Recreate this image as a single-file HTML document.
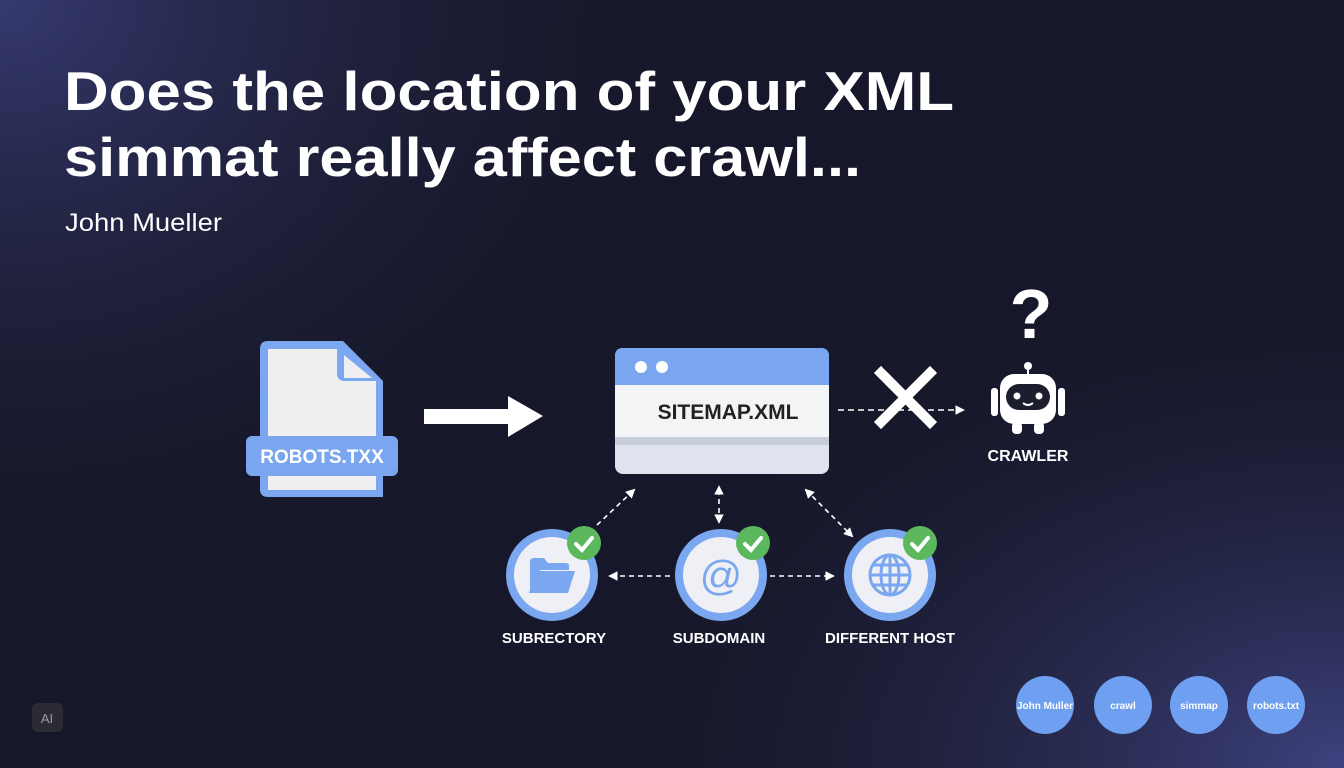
<!DOCTYPE html>
<html><head><meta charset="utf-8"><style>
html,body{margin:0;padding:0;}
body{width:1344px;height:768px;overflow:hidden;background:#14151f;font-family:"Liberation Sans",sans-serif;}
svg{display:block;}
</style></head><body>
<svg width="1344" height="768" viewBox="0 0 1344 768" xmlns="http://www.w3.org/2000/svg">
<defs>
<radialGradient id="g1" cx="0" cy="0" r="1" gradientUnits="userSpaceOnUse" gradientTransform="translate(0 0) scale(800 650)">
<stop offset="0" stop-color="#363a70"/><stop offset="1" stop-color="#14151f" stop-opacity="0"/></radialGradient>
<radialGradient id="g2" cx="0" cy="0" r="1" gradientUnits="userSpaceOnUse" gradientTransform="translate(1344 768) scale(850 550)">
<stop offset="0" stop-color="#3e4280"/><stop offset="1" stop-color="#14151f" stop-opacity="0"/></radialGradient>
<marker id="ah" viewBox="0 0 10 10" refX="8" refY="5" markerWidth="6" markerHeight="6" orient="auto-start-reverse"><path d="M0,0L10,5L0,10z" fill="#fff"/></marker>
</defs>
<rect width="1344" height="768" fill="#16172a"/>
<rect width="1344" height="768" fill="url(#g1)"/>
<rect width="1344" height="768" fill="url(#g2)"/>
<text x="64" y="110" fill="#fff" font-size="55" font-weight="bold" textLength="890" lengthAdjust="spacingAndGlyphs">Does the location of your XML</text>
<text x="64" y="176" fill="#fff" font-size="55" font-weight="bold" textLength="797" lengthAdjust="spacingAndGlyphs">simmat really affect crawl...</text>
<text x="65" y="231" fill="#fff" font-size="25" textLength="157" lengthAdjust="spacingAndGlyphs">John Mueller</text>
<path d="M268,341 H343 L383,381 V497 H268 Q260,497 260,489 V349 Q260,341 268,341z" fill="#7aa7ef"/>
<path d="M268,349 H337 V373 Q337,381 345,381 H376 V490 H268z" fill="#efeff2"/>
<path d="M344,355 L372,378 H344z" fill="#efeff2"/>
<rect x="246" y="436" width="152" height="40" rx="6" fill="#79a6ee"/>
<text x="322" y="463" fill="#fff" font-size="19" font-weight="bold" text-anchor="middle">ROBOTS.TXX</text>
<rect x="424" y="409" width="86" height="15" fill="#fff"/>
<path d="M508,396 L543,416 L508,437z" fill="#fff"/>
<rect x="615" y="348" width="214" height="126" rx="8" fill="#dee3ee"/>
<path d="M623,348 H821 Q829,348 829,356 V385 H615 V356 Q615,348 623,348z" fill="#79a6ee"/>
<rect x="615" y="385" width="214" height="52" fill="#f3f4f6"/>
<rect x="615" y="437" width="214" height="8" fill="#c8cddb"/>
<circle cx="641" cy="367" r="6" fill="#fff"/><circle cx="662" cy="367" r="6" fill="#fff"/>
<text x="728" y="419" fill="#222" font-size="21" font-weight="bold" text-anchor="middle">SITEMAP.XML</text>
<line x1="838" y1="410" x2="963" y2="410" stroke="#fff" stroke-width="1.6" stroke-dasharray="6,4" marker-end="url(#ah)"/>
<path d="M881,373 L930,422 M930,373 L881,422" stroke="#fff" stroke-width="10" stroke-linecap="square"/>
<text x="1031" y="338" fill="#fff" font-size="70" font-weight="bold" text-anchor="middle">?</text>
<circle cx="1028" cy="366" r="4" fill="#fff"/><rect x="1027" y="366" width="2" height="10" fill="#fff"/>
<rect x="1000" y="374" width="56" height="50" rx="14" fill="#fff"/>
<rect x="991" y="388" width="7" height="28" rx="3" fill="#fff"/><rect x="1058" y="388" width="7" height="28" rx="3" fill="#fff"/>
<rect x="1006" y="384" width="44" height="26" rx="13" fill="#1c1e2e"/>
<circle cx="1017" cy="396" r="3.5" fill="#fff"/><circle cx="1039" cy="396" r="3.5" fill="#fff"/>
<path d="M1023,403 Q1028,407 1033,403" stroke="#fff" stroke-width="2" fill="none"/>
<rect x="1012" y="422" width="10" height="12" rx="4" fill="#fff"/><rect x="1034" y="422" width="10" height="12" rx="4" fill="#fff"/>
<text x="1028" y="461" fill="#fff" font-size="16" font-weight="bold" text-anchor="middle">CRAWLER</text>
<g stroke="#fff" stroke-width="1.6" stroke-dasharray="5,4" fill="none">
<line x1="597" y1="525" x2="634" y2="490" marker-end="url(#ah)"/>
<line x1="719" y1="522" x2="719" y2="487" marker-end="url(#ah)" marker-start="url(#ah)"/>
<line x1="806" y1="490" x2="852" y2="536" marker-end="url(#ah)" marker-start="url(#ah)"/>
<line x1="670" y1="576" x2="610" y2="576" marker-end="url(#ah)"/>
<line x1="770" y1="576" x2="833" y2="576" marker-end="url(#ah)"/>
</g>
<circle cx="552" cy="575" r="46" fill="#7aa7ef"/><circle cx="552" cy="575" r="38" fill="#eef0f5"/>
<path d="M530,562 Q530,558 534,558 H544 L548,563 H566 Q569,563 569,566 V570 H540 L530,592z" fill="#7aa7ef"/>
<path d="M536,571 H575 L568,593 H529z" fill="#7aa7ef"/>
<circle cx="721" cy="575" r="46" fill="#7aa7ef"/><circle cx="721" cy="575" r="38" fill="#eef0f5"/>
<text x="721" y="590" fill="#7aa7ef" font-size="42" text-anchor="middle">@</text>
<circle cx="890" cy="575" r="46" fill="#7aa7ef"/><circle cx="890" cy="575" r="38" fill="#eef0f5"/>
<g stroke="#7aa7ef" stroke-width="3" fill="none"><circle cx="890" cy="575" r="20"/><ellipse cx="890" cy="575" rx="9" ry="20"/><line x1="870" y1="575" x2="910" y2="575"/><line x1="873" y1="565" x2="907" y2="565"/><line x1="873" y1="585" x2="907" y2="585"/><line x1="890" y1="555" x2="890" y2="595"/></g>
<g fill="#5cb85c"><circle cx="584" cy="543" r="17"/><circle cx="753" cy="543" r="17"/><circle cx="920" cy="543" r="17"/></g>
<g stroke="#fff" stroke-width="4" fill="none" stroke-linecap="round"><path d="M576,544 L582,550 L592,538"/><path d="M745,544 L751,550 L761,538"/><path d="M912,544 L918,550 L928,538"/></g>
<g fill="#fff" font-size="15" font-weight="bold" text-anchor="middle">
<text x="554" y="643">SUBRECTORY</text><text x="719" y="643">SUBDOMAIN</text><text x="890" y="643">DIFFERENT HOST</text></g>
<g fill="#6f9ff0"><circle cx="1045" cy="705" r="29"/><circle cx="1123" cy="705" r="29"/><circle cx="1199" cy="705" r="29"/><circle cx="1276" cy="705" r="29"/></g>
<g fill="#fff" font-size="10" font-weight="bold" text-anchor="middle">
<text x="1045" y="709">John Muller</text><text x="1123" y="709">crawl</text><text x="1199" y="709">simmap</text><text x="1276" y="709">robots.txt</text></g>
<rect x="32" y="703" width="31" height="29" rx="6" fill="#2a2b33"/>
<text x="47" y="723" fill="#9a9ba3" font-size="13" text-anchor="middle">AI</text>
</svg>
</body></html>
